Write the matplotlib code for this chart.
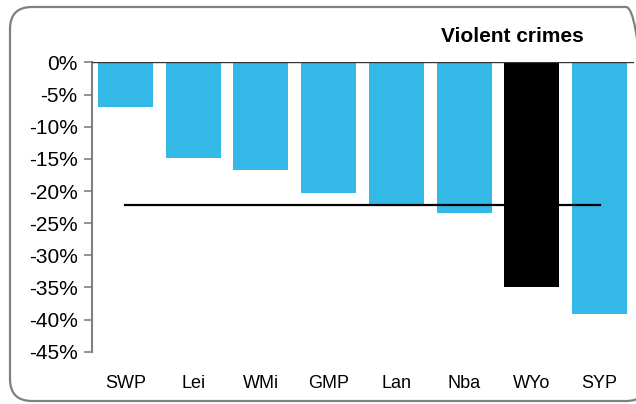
import matplotlib
matplotlib.use("Agg")
import matplotlib.pyplot as plt
from matplotlib.patches import FancyBboxPatch

plt.rcParams['font.family'] = ['Liberation Sans', 'DejaVu Sans']

# data
forces = ["SWP", "Lei", "WMi", "GMP", "Lan", "Nba", "WYo", "SYP"]
change = [-6.9, -14.8, -16.7, -20.3, -22.0, -23.4, -35.0, -39.2]
average = -22.2
highlight = "WYo"
yticks = [0, -5, -10, -15, -20, -25, -30, -35, -40, -45]

blue = "#33B8E8"
colors = ["black" if f == highlight else blue for f in forces]

fig = plt.figure(figsize=(6.36, 4.04), dpi=100)
ax = fig.add_axes([0.1439, 0.1295, 0.8522, 0.7158])

x = range(len(forces))
ax.bar(x, change, width=0.81, color=colors, zorder=2)
ax.plot([0, len(forces) - 1], [average, average], color="black", lw=1.6, zorder=3)
ax.axhline(0, color="#333333", lw=1.0, zorder=4)

ax.set_xlim(-0.5, len(forces) - 0.5)
ax.set_ylim(-45, 0)
ax.set_yticks(yticks)
ax.set_yticklabels([f"{v}%" for v in yticks], fontsize=15)
ax.set_xticks(list(x))
ax.set_xticklabels(forces, fontsize=13)
ax.tick_params(axis="x", length=0, pad=17)
ax.tick_params(axis="y", length=6, width=1.2, color="#808080", pad=4)

for s in ["top", "right", "bottom"]:
    ax.spines[s].set_visible(False)
ax.spines["left"].set_color("#808080")
ax.spines["left"].set_linewidth(1.5)

fig.text(0.806, 0.909, "Violent crimes", fontsize=15, fontweight="bold",
         ha="center", va="center")

# rounded frame around the chart
frame = FancyBboxPatch((10, 3), 638, 394, boxstyle="round,pad=0,rounding_size=22",
                       transform=None, fill=False, edgecolor="#808080", lw=1.6)
fig.patches.append(frame)

fig.savefig("out.png", dpi=100)
